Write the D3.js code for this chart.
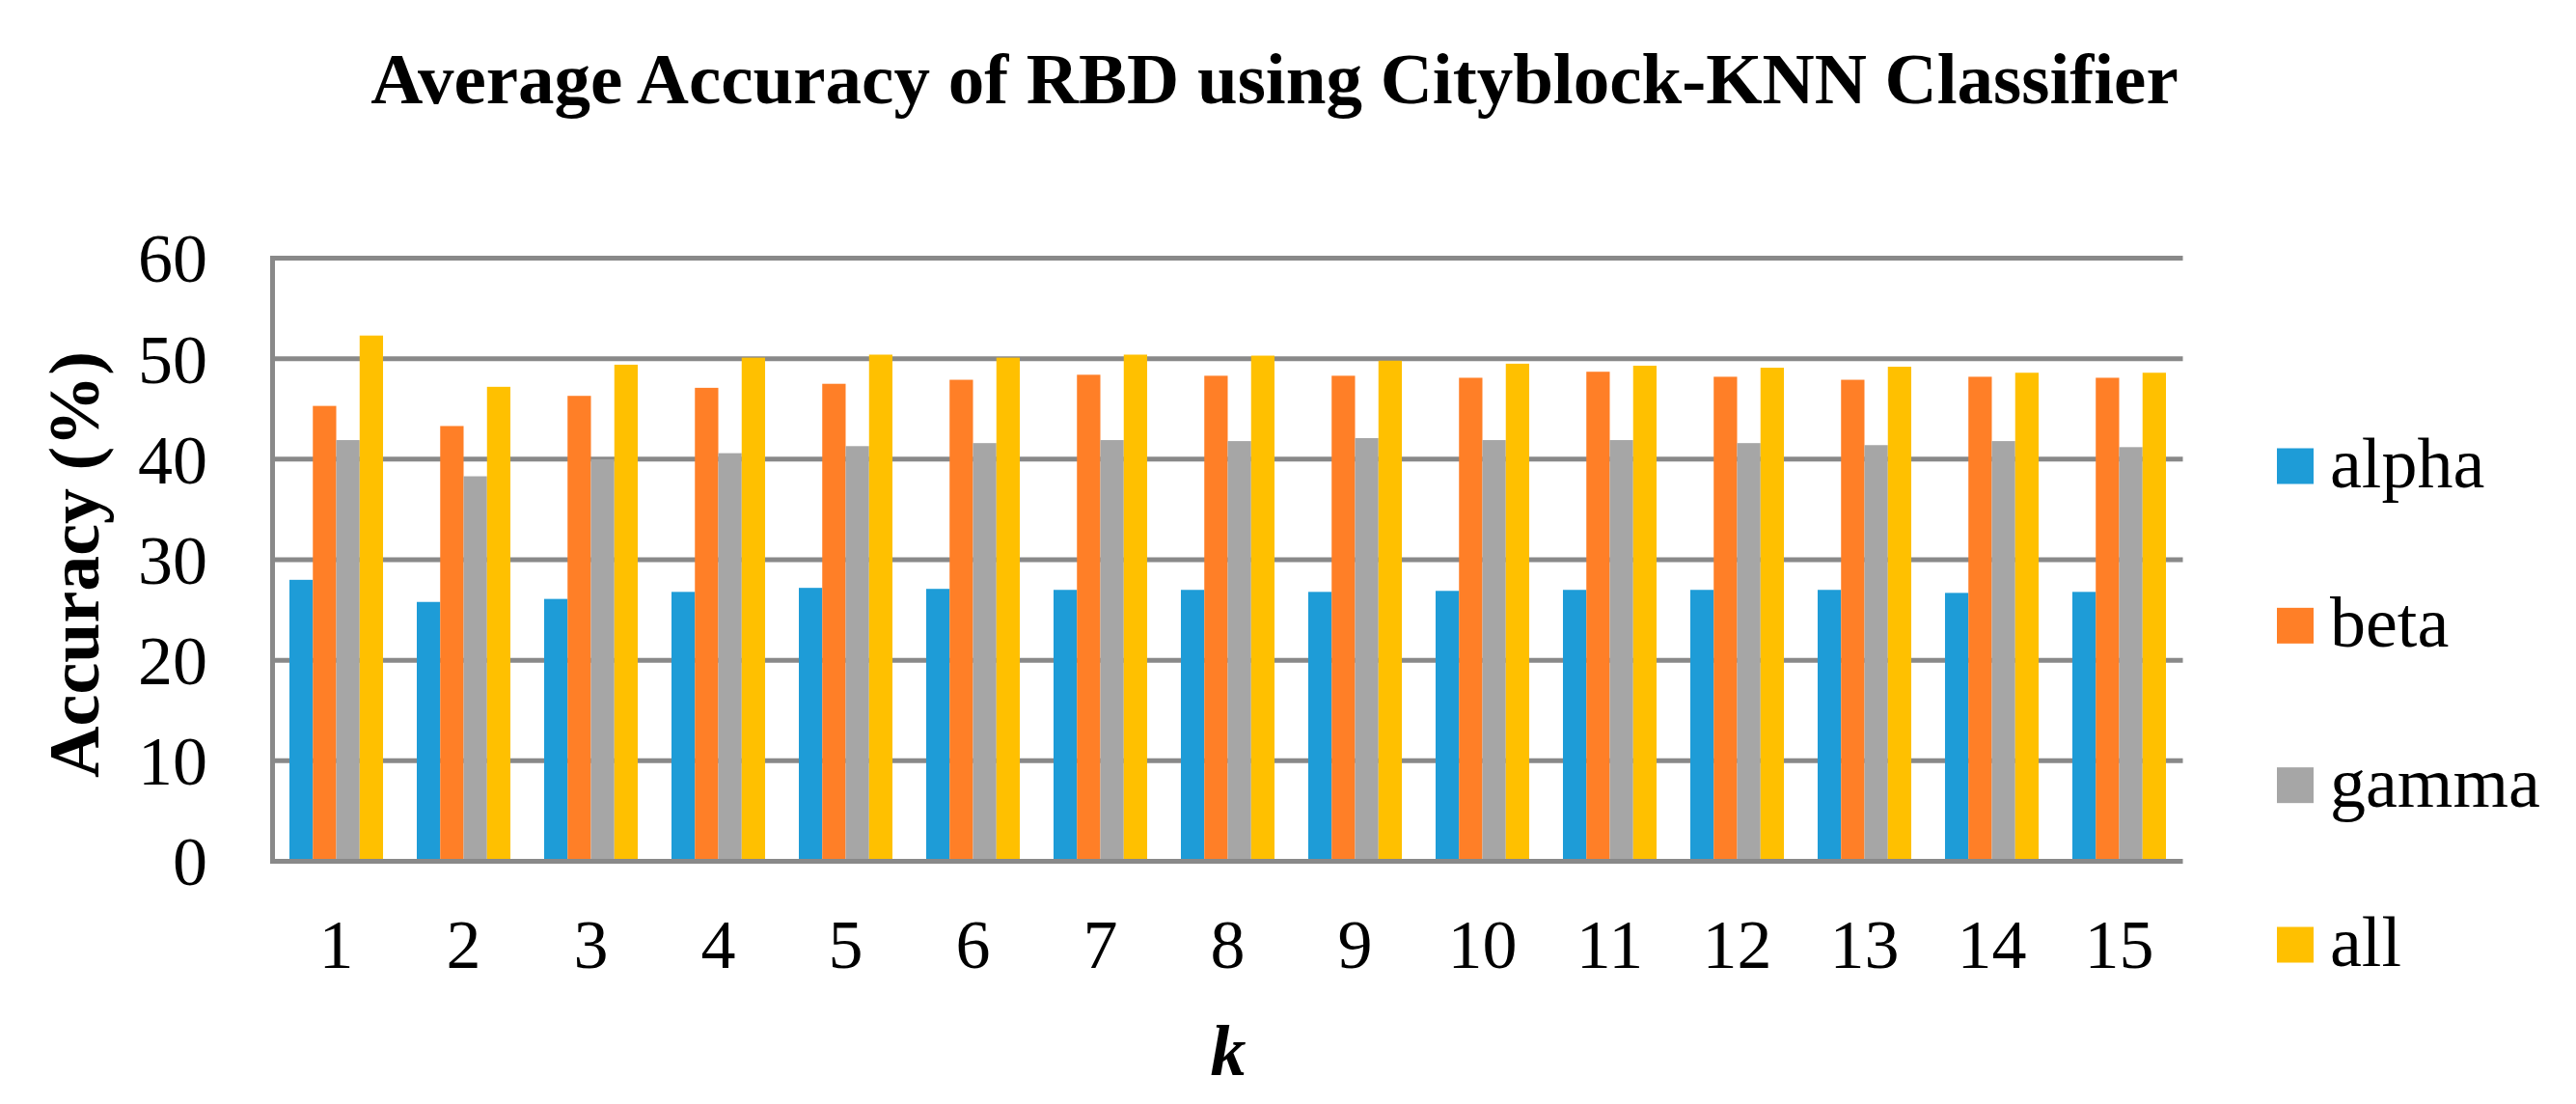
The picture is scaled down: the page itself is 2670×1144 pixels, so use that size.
<!DOCTYPE html>
<html>
<head>
<meta charset="utf-8">
<script src="https://cdn.jsdelivr.net/npm/d3@7"></script>
<style>
  html, body { margin: 0; padding: 0; background: #ffffff; }
  svg { display: block; }
</style>
</head>
<body>
<svg id="chart" width="2670" height="1144"></svg>
<script>
// ---- Data ----
const categories = ["1","2","3","4","5","6","7","8","9","10","11","12","13","14","15"];
const seriesNames = ["alpha","beta","gamma","all"];
const alphaValues = [28.0, 25.8, 26.1, 26.8, 27.2, 27.1, 27.0, 27.0, 26.8, 26.9, 27.0, 27.0, 27.0, 26.7, 26.8];
const betaValues  = [45.3, 43.3, 46.3, 47.1, 47.5, 47.9, 48.4, 48.3, 48.3, 48.1, 48.7, 48.2, 47.9, 48.2, 48.1];
const gammaValues = [41.9, 38.3, 40.0, 40.6, 41.3, 41.6, 41.9, 41.8, 42.1, 41.9, 41.9, 41.6, 41.4, 41.8, 41.2];
const allValues   = [52.3, 47.2, 49.4, 50.1, 50.4, 50.1, 50.4, 50.3, 49.8, 49.5, 49.3, 49.1, 49.2, 48.6, 48.6];
const yTicks = [0, 10, 20, 30, 40, 50, 60];
const titleText = "Average Accuracy of RBD using Cityblock-KNN Classifier";
const yAxisTitle = "Accuracy (%)";
const xAxisTitle = "k";

// ---- Styles / layout ----
const colors = ["#1E9CD7", "#FF7F27", "#A6A6A6", "#FFC000"];
const gridColor = "#898989";
const serif = "'Liberation Serif', 'Times New Roman', serif";
const plot = { left: 282.5, right: 2262.5, top: 267.5, bottom: 892.5 };

const seriesData = [alphaValues, betaValues, gammaValues, allValues];
const table = categories.map((c, i) => ({
  k: c,
  values: seriesNames.map((s, j) => ({ series: s, idx: j, value: seriesData[j][i] }))
}));

const svg = d3.select("#chart");
svg.append("rect").attr("width", 2670).attr("height", 1144).attr("fill", "#ffffff");

const x = d3.scaleBand().domain(categories)
  .range([plot.left, plot.right])
  .paddingInner(0.265).paddingOuter(0.1326);
const xs = d3.scaleBand().domain(seriesNames).range([0, x.bandwidth()]);
const y = d3.scaleLinear().domain([0, 60]).range([plot.bottom, plot.top]);

// Gridlines
svg.append("g").selectAll("line")
  .data(yTicks.filter(t => t > 0))
  .join("line")
  .attr("x1", plot.left - 2.5).attr("x2", plot.right)
  .attr("y1", d => y(d)).attr("y2", d => y(d))
  .attr("stroke", gridColor).attr("stroke-width", 5);

// Bars
const groups = svg.append("g").selectAll("g")
  .data(table).join("g")
  .attr("transform", d => `translate(${x(d.k)},0)`);
groups.selectAll("rect")
  .data(d => d.values).join("rect")
  .attr("x", d => xs(d.series))
  .attr("width", xs.bandwidth())
  .attr("y", d => y(d.value))
  .attr("height", d => y(0) - y(d.value))
  .attr("fill", d => colors[d.idx]);

// Axis lines
svg.append("line")
  .attr("x1", plot.left).attr("x2", plot.left)
  .attr("y1", plot.top - 2.5).attr("y2", plot.bottom + 2.5)
  .attr("stroke", gridColor).attr("stroke-width", 5);
svg.append("line")
  .attr("x1", plot.left - 2.5).attr("x2", plot.right)
  .attr("y1", y(0)).attr("y2", y(0))
  .attr("stroke", gridColor).attr("stroke-width", 5);

// Y tick labels
const yAxis = d3.axisLeft(y).tickValues(yTicks).tickSize(0).tickPadding(0);
const yg = svg.append("g").attr("transform", "translate(215,0)").call(yAxis);
yg.select(".domain").remove();
yg.selectAll("text")
  .attr("x", 0).attr("dy", "0.34em")
  .attr("font-family", serif).attr("font-size", 72).attr("fill", "#000");

// X tick labels
const xAxis = d3.axisBottom(x).tickSize(0).tickPadding(0);
const xg = svg.append("g").attr("transform", "translate(0,1003)").call(xAxis);
xg.select(".domain").remove();
xg.selectAll("text")
  .attr("y", 0).attr("dy", 0)
  .attr("font-family", serif).attr("font-size", 72).attr("fill", "#000");

// Title
svg.append("text")
  .attr("x", 1321).attr("y", 107)
  .attr("text-anchor", "middle")
  .attr("font-family", serif).attr("font-weight", "bold").attr("font-size", 75)
  .text(titleText);

// Y axis title
svg.append("text")
  .attr("transform", "translate(102,585) rotate(-90)")
  .attr("text-anchor", "middle")
  .attr("font-family", serif).attr("font-weight", "bold").attr("font-size", 74)
  .text(yAxisTitle);

// X axis title
svg.append("text")
  .attr("x", 1273).attr("y", 1114)
  .attr("text-anchor", "middle")
  .attr("font-family", serif).attr("font-weight", "bold").attr("font-style", "italic").attr("font-size", 74)
  .text(xAxisTitle);

// Legend
const legendY = d3.scalePoint().domain(seriesNames).range([483, 979]);
const lg = svg.append("g").selectAll("g")
  .data(seriesNames).join("g")
  .attr("transform", d => `translate(2360,${legendY(d)})`);
lg.append("rect")
  .attr("x", 0).attr("y", -18.5).attr("width", 38).attr("height", 37)
  .attr("fill", (d, i) => colors[i]);
lg.append("text")
  .attr("x", 55).attr("y", 22)
  .attr("font-family", serif).attr("font-size", 74).attr("fill", "#000")
  .text(d => d);
</script>
</body>
</html>
